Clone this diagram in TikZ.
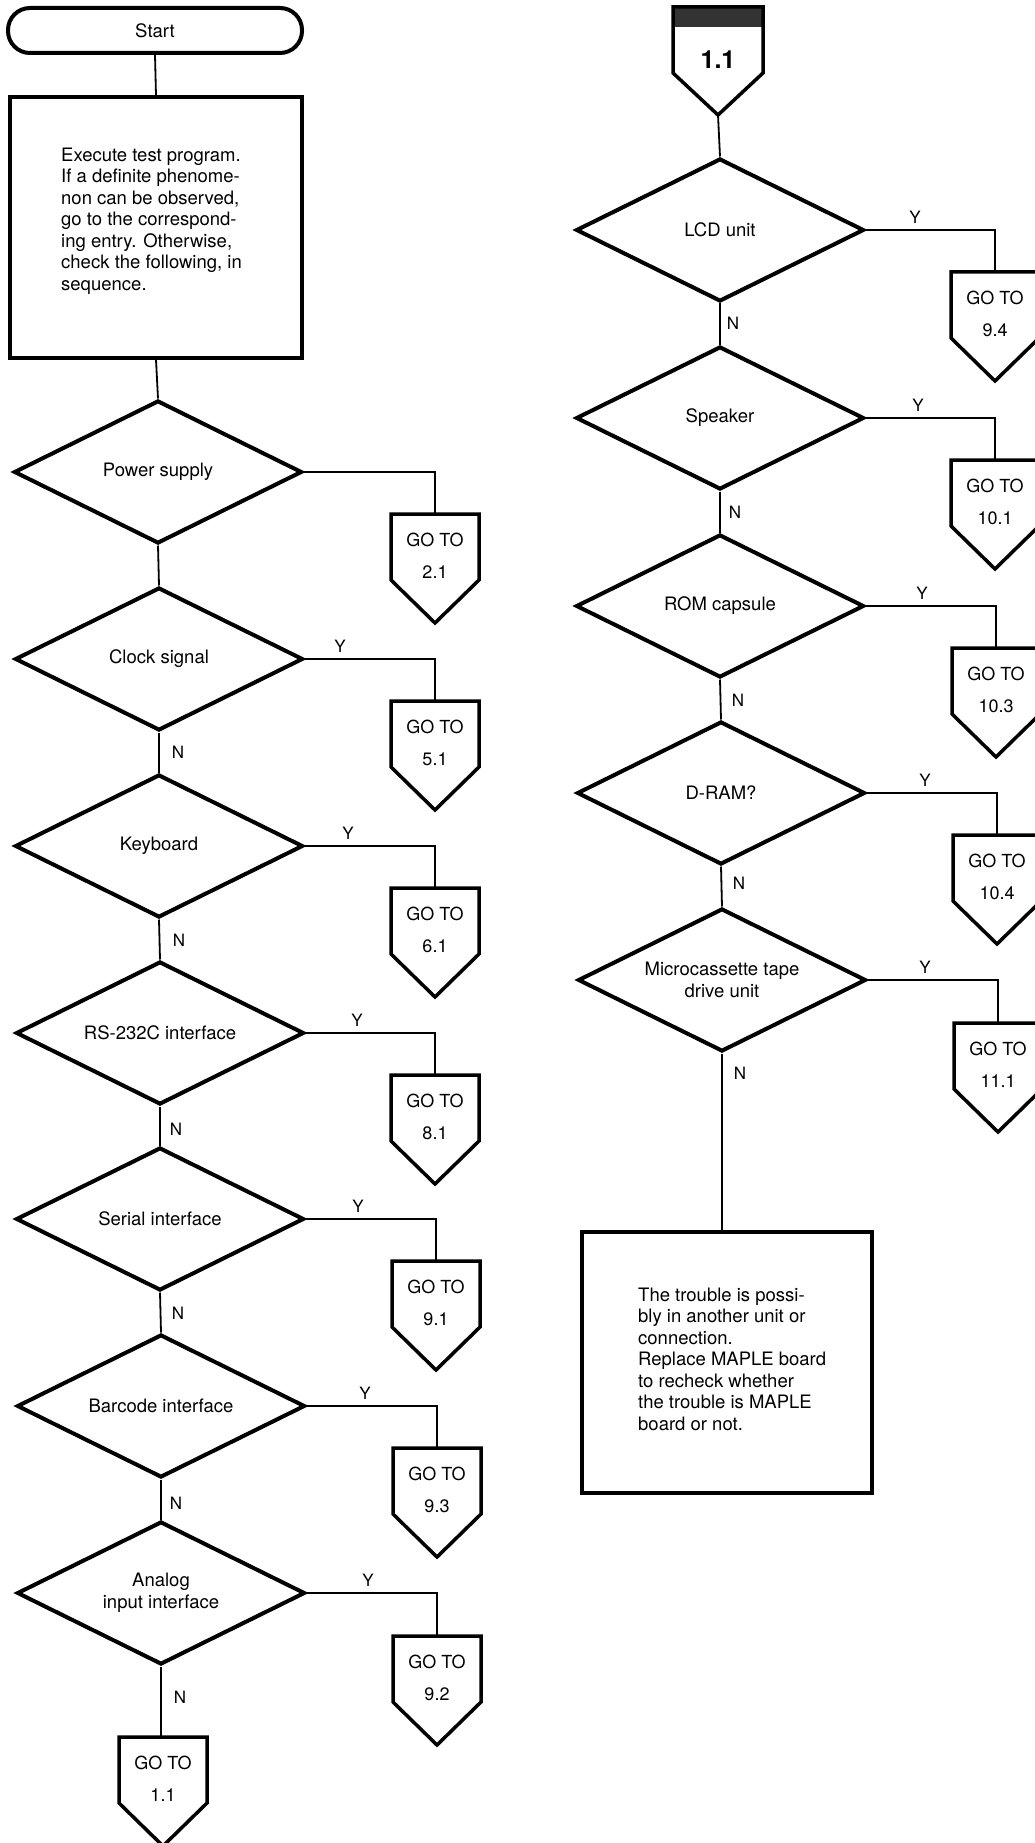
\documentclass[tikz,border=0pt]{standalone}
\usepackage{fontspec}
\setmainfont{TeX Gyre Heros}
\usetikzlibrary{shapes.geometric,calc}

\tikzset{
  every node/.style={font=\fontsize{18.5}{21.5}\selectfont},
  decision/.style={shape=diamond, draw, line width=4pt, aspect=2,
    minimum width=288pt, minimum height=143pt, inner sep=0pt, align=center},
  conn/.style={line width=1.8pt},
  gobox/.style={shape=rectangle, draw=none, minimum width=88pt,
    minimum height=109pt, anchor=north, inner sep=0pt, outer sep=0pt},
  goline/.style={line width=3.5pt, line join=miter},
  gotext/.style={align=center, inner sep=0pt, font=\fontsize{18}{32}\selectfont},
  lab/.style={font=\fontsize{17}{20}\selectfont, inner sep=0pt},
}

\newcommand\gotoat[4]{%
  \node[gobox] (#1) at (#2,#3) {};
  \draw[goline] (#1.north west) -- (#1.north east) -- ([yshift=43pt]#1.south east)
     -- (#1.south) -- ([yshift=43pt]#1.south west) -- cycle;
  \node[gotext] (#1t) at ([yshift=-42pt]#1.north) {GO TO\\#4};
}

\begin{document}
\begin{tikzpicture}[x=1pt,y=-1pt]
\useasboundingbox (0,0) rectangle (1034,1843);
\fill[white] (0,0) rectangle (1034,1843);

% ---------- left column ----------
\node[draw, line width=4pt, rounded corners=22pt, minimum width=294pt,
      minimum height=45pt, inner sep=0pt] (start) at (155,30.5) {Start};
\node[draw, line width=3.5pt, minimum width=292pt, minimum height=261pt,
      inner sep=0pt] (exec) at (156,227.5) {};
\node[anchor=west, align=left, inner sep=0pt] (exectext) at (61,221)
  {Execute test program.\\If a definite phenome-\\non can be observed,\\go to the correspond-\\ing entry. Otherwise,\\check the following, in\\sequence.};

\node[decision] (pw)  at (158,472)  {Power supply};
\node[decision] (clk) at (159,659)  {Clock signal};
\node[decision] (kbd) at (159,846)  {Keyboard};
\node[decision] (rs)  at (160,1033) {RS-232C interface};
\node[decision] (ser) at (160,1219) {Serial interface};
\node[decision] (bar) at (161,1406) {Barcode interface};
\node[decision] (ana) at (161,1593) {Analog\\input interface};

\gotoat{g21}{435}{514}{2.1}
\gotoat{g51}{435}{701}{5.1}
\gotoat{g61}{435}{888}{6.1}
\gotoat{g81}{435}{1075}{8.1}
\gotoat{g91}{436}{1261}{9.1}
\gotoat{g93}{437}{1448}{9.3}
\gotoat{g92}{437}{1636}{9.2}
\gotoat{g11b}{163}{1737}{1.1}

\draw[conn] (start.south) -- (exec.north);
\draw[conn] (exec.south) -- (pw.north);
\draw[conn] (pw.south) -- (clk.north);
\draw[conn] (clk.south) -- (kbd.north);
\draw[conn] (kbd.south) -- (rs.north);
\draw[conn] (rs.south) -- (ser.north);
\draw[conn] (ser.south) -- (bar.north);
\draw[conn] (bar.south) -- (ana.north);
\draw[conn] (ana.south) -- (ana.south |- g11b.north);

\draw[conn] (pw.east)  -| (g21.north);
\draw[conn] (clk.east) -| (g51.north);
\draw[conn] (kbd.east) -| (g61.north);
\draw[conn] (rs.east)  -| (g81.north);
\draw[conn] (ser.east) -| (g91.north);
\draw[conn] (bar.east) -| (g93.north);
\draw[conn] (ana.east) -| (g92.north);

\node[lab] (yclk) at (340,646) {Y};
\node[lab] (ykbd) at (348,833) {Y};
\node[lab] (yrs)  at (357,1020) {Y};
\node[lab] (yser) at (358,1206) {Y};
\node[lab] (ybar) at (365,1393) {Y};
\node[lab] (yana) at (368,1580) {Y};

\node[lab] (nclk) at (178,752)  {N};
\node[lab] (nkbd) at (179,940)  {N};
\node[lab] (nrs)  at (176,1129) {N};
\node[lab] (nser) at (178,1313) {N};
\node[lab] (nbar) at (176,1503) {N};
\node[lab] (nana) at (180,1697) {N};

% ---------- right column ----------
\node[gobox, minimum width=90pt, minimum height=108pt] (top) at (718,7) {};
\fill[white] (top.north west) -- (top.north east) -- ([yshift=42pt]top.south east)
     -- (top.south) -- ([yshift=42pt]top.south west) -- cycle;
\fill[black!80] (top.north west) rectangle ([yshift=-20pt]top.north east);
\draw[goline] (top.north west) -- (top.north east) -- ([yshift=42pt]top.south east)
     -- (top.south) -- ([yshift=42pt]top.south west) -- cycle;
\node[font=\fontsize{25}{28}\selectfont\bfseries, inner sep=0pt] (toptext) at (718,60) {1.1};

\node[decision] (lcd)  at (720,230) {LCD unit};
\node[decision] (spk)  at (720,418) {Speaker};
\node[decision] (rom)  at (720,606) {ROM capsule};
\node[decision] (dram) at (721,793) {D-RAM?};
\node[decision] (mic)  at (722,980) {Microcassette tape\\drive unit};

\gotoat{g94}{995}{272}{9.4}
\gotoat{g101}{995}{460}{10.1}
\gotoat{g103}{996}{648}{10.3}
\gotoat{g104}{997}{835}{10.4}
\gotoat{g111}{998}{1023}{11.1}

\node[draw, line width=3.5pt, minimum width=290pt, minimum height=261pt,
      inner sep=0pt] (final) at (727,1362.5) {};
\node[anchor=west, align=left, inner sep=0pt] (finaltext) at (638,1359)
  {The trouble is possi-\\bly in another unit or\\connection.\\Replace MAPLE board\\to recheck whether\\the trouble is MAPLE\\board or not.};

\draw[conn] (top.south) -- (lcd.north);
\draw[conn] (lcd.south) -- (spk.north);
\draw[conn] (spk.south) -- (rom.north);
\draw[conn] (rom.south) -- (dram.north);
\draw[conn] (dram.south) -- (mic.north);
\draw[conn] (mic.south) -- (mic.south |- final.north);

\draw[conn] (lcd.east)  -| (g94.north);
\draw[conn] (spk.east)  -| (g101.north);
\draw[conn] (rom.east)  -| (g103.north);
\draw[conn] (dram.east) -| (g104.north);
\draw[conn] (mic.east)  -| (g111.north);

\node[lab] (ylcd)  at (915,217) {Y};
\node[lab] (yspk)  at (918,405) {Y};
\node[lab] (yrom)  at (922,593) {Y};
\node[lab] (ydram) at (925,780) {Y};
\node[lab] (ymic)  at (925,967) {Y};

\node[lab] (nlcd)  at (733,323)  {N};
\node[lab] (nspk)  at (735,512)  {N};
\node[lab] (nrom)  at (738,700)  {N};
\node[lab] (ndram) at (739,883)  {N};
\node[lab] (nmic)  at (740,1073) {N};
\end{tikzpicture}
\end{document}
